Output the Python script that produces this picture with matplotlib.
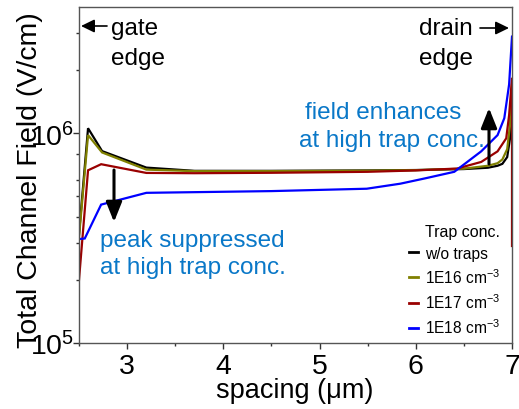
import matplotlib
matplotlib.use("Agg")
import matplotlib.pyplot as plt
import matplotlib.ticker as mticker

plt.rcParams['font.family'] = ['Liberation Sans', 'DejaVu Sans']
plt.rcParams['mathtext.fontset'] = 'custom'
plt.rcParams['mathtext.rm'] = 'Liberation Sans'
plt.rcParams['mathtext.it'] = 'Liberation Sans:italic'
plt.rcParams['mathtext.bf'] = 'Liberation Sans:bold'

# ---- data (field in V/cm, spacing in um) ----
x_notrap = [2.5, 2.594, 2.74, 3.2, 3.7, 4.5, 5.5, 6.0, 6.5, 6.75, 6.85, 6.9, 6.95, 6.98, 7.0]
y_notrap = [3.3e5, 1.057e6, 8.22e5, 6.86e5, 6.62e5, 6.62e5, 6.65e5, 6.68e5, 6.75e5, 6.85e5,
            7.0e5, 7.15e5, 7.7e5, 9.5e5, 1.6e6]

x_1e16 = [2.5, 2.594, 2.74, 3.2, 3.7, 4.5, 5.5, 6.0, 6.5, 6.75, 6.85, 6.9, 6.95, 6.98, 7.0]
y_1e16 = [3.2e5, 9.8e5, 8.1e5, 6.71e5, 6.6e5, 6.6e5, 6.63e5, 6.67e5, 6.78e5, 7.0e5,
          7.2e5, 7.5e5, 8.4e5, 1.1e6, 1.7e6]

x_1e17 = [2.5, 2.594, 2.73, 3.2, 3.7, 4.5, 5.5, 6.0, 6.43, 6.68, 6.85, 6.94, 6.97, 7.0, 7.0]
y_1e17 = [2.0e5, 6.66e5, 7.12e5, 6.47e5, 6.45e5, 6.48e5, 6.55e5, 6.65e5, 6.79e5, 7.3e5,
          8.2e5, 9.46e5, 1.22e6, 1.84e6, 2.9e5]

x_1e18 = [2.5, 2.56, 2.73, 3.2, 4.5, 5.49, 5.84, 6.1, 6.4, 6.68, 6.85, 6.92, 6.97, 7.0]
y_1e18 = [3.13e5, 3.15e5, 4.57e5, 5.2e5, 5.3e5, 5.44e5, 5.75e5, 6.1e5, 6.55e5, 8.2e5,
          9.8e5, 1.18e6, 1.71e6, 2.89e6]

labels = ['w/o traps', '1E16 cm$^{-3}$', '1E17 cm$^{-3}$', '1E18 cm$^{-3}$']
colors = ['#000000', '#808000', '#990000', '#0000FF']

W, H = 519, 410
fig = plt.figure(figsize=(W / 100, H / 100), dpi=100)
ax = fig.add_axes([79 / W, 1 - 344 / H, (512 - 79) / W, (344 - 8) / H])

series = [(x_notrap, y_notrap), (x_1e16, y_1e16), (x_1e17, y_1e17), (x_1e18, y_1e18)]
for (xs, ys), c, lab in zip(series, colors, labels):
    ax.plot(xs, ys, color=c, lw=1.6, label=lab, solid_joinstyle='miter')

ax.set_yscale('log')
ax.set_xlim(2.5, 7.0)
ax.set_ylim(1e5, 4e6)

ax.xaxis.set_major_locator(mticker.FixedLocator([3, 4, 5, 6, 7]))
ax.xaxis.set_minor_locator(mticker.FixedLocator([2.5, 3.5, 4.5, 5.5, 6.5]))
ax.yaxis.set_major_locator(mticker.FixedLocator([1e5, 1e6]))
ax.yaxis.set_minor_locator(mticker.FixedLocator([2e5, 3e5, 4e5, 5e5, 6e5, 8e5, 2e6, 3e6]))
ax.yaxis.set_major_formatter(mticker.LogFormatterSciNotation())
ax.yaxis.set_minor_formatter(mticker.NullFormatter())

for sp in ax.spines.values():
    sp.set_color('#555555')
    sp.set_linewidth(1.0)

ax.tick_params(axis='both', which='major', direction='out', length=4.5, width=1.0,
               color='#333333', labelsize=20.5)
ax.tick_params(axis='both', which='minor', direction='out', length=2.5, width=1.0,
               color='#333333')
ax.tick_params(axis='x', which='major', pad=3)
ax.tick_params(axis='y', which='major', pad=-1)

ax.set_ylabel('Total Channel Field (V/cm)', fontsize=20.5)
ax.yaxis.set_label_coords(-0.083, 0.488)
fig.text(295 / W, 1 - 398 / H, 'spacing (\u03bcm)', fontsize=19.5, ha='center', va='baseline')

# legend
leg = ax.legend(title='Trap conc.', loc='lower right', bbox_to_anchor=(0.972, 0.02),
                frameon=False, fontsize=11.2, title_fontsize=11.5, handlelength=0.6,
                handletextpad=0.4, labelspacing=0.42, borderaxespad=0, borderpad=0,
                alignment='right')
for h in leg.get_lines():
    h.set_linewidth(2.0)

# annotations text
def ftext(x, y, s, color, **kw):
    fig.text(x / W, 1 - y / H, s, color=color, fontsize=17.5, va='baseline', **kw)

ftext(111, 35, 'gate', 'black')
ftext(111, 65, 'edge', 'black')
ftext(419, 35, 'drain', 'black')
ftext(419, 65, 'edge', 'black')
blue_txt = '#0a78c8'
ftext(305, 119, 'field enhances', blue_txt)
ftext(299, 147, 'at high trap conc.', blue_txt)
ftext(100, 247, 'peak suppressed', blue_txt)
ftext(100, 274, 'at high trap conc.', blue_txt)

def farrow(x0, y0, x1, y1, style, lw, ms):
    ax.annotate('', xy=(x1, H - y1), xytext=(x0, H - y0), xycoords='figure pixels',
                textcoords='figure pixels',
                arrowprops=dict(arrowstyle=style, lw=lw, color='black',
                                mutation_scale=ms, shrinkA=0, shrinkB=0))

farrow(107, 27, 81, 27, '-|>,head_length=0.45,head_width=0.22', 1.2, 18)
farrow(480, 29, 509, 29, '-|>,head_length=0.45,head_width=0.22', 1.2, 18)
farrow(114, 171, 114, 223, '-|>,head_length=0.6,head_width=0.24', 2.2, 20)
farrow(489, 165, 489, 109, '-|>,head_length=0.6,head_width=0.24', 2.2, 20)

fig.savefig('out.png', dpi=100)
